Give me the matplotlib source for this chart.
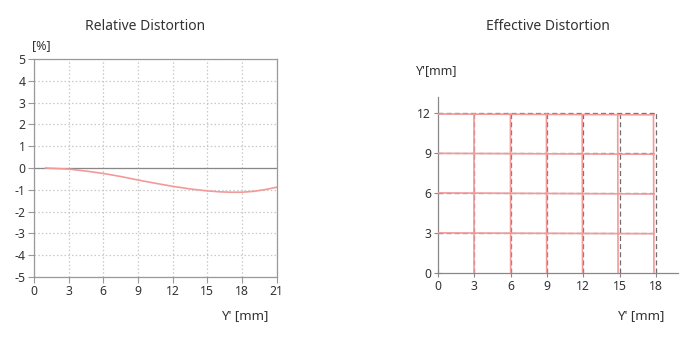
import matplotlib
matplotlib.use("Agg")
import matplotlib.pyplot as plt
import numpy as np

plt.rcParams['font.family'] = ['Noto Sans', 'DejaVu Sans']
plt.rcParams['axes.unicode_minus'] = False

# Relative distortion curve
dist_x = [1, 3, 4.5, 6, 7.5, 9, 10.5, 12, 13.5, 15, 16, 17, 18, 19, 20, 21]
dist_y = [0.0, -0.05, -0.14, -0.25, -0.39, -0.55, -0.70, -0.84, -0.96, -1.05, -1.09, -1.11, -1.11, -1.07, -0.99, -0.88]

# Effective distortion: ideal grid
ideal_x = [0, 3, 6, 9, 12, 15, 18]
ideal_y = [0, 3, 6, 9, 12]
# Distorted vertical lines: x position at y=0 and at y=12
vert_x_bottom = [0, 3.0, 6.0, 8.97, 11.93, 14.86, 17.82]
vert_x_top = [0, 3.0, 5.98, 8.95, 11.9, 14.83, 17.78]
# Distorted horizontal lines: y position at x=0 and at x=18
horz_y_left = [0, 3.0, 6.0, 8.97, 11.92]
horz_y_right = [0, 2.94, 5.92, 8.9, 11.86]

red = '#f4999a'
gray = '#6f6f6f'
txt = '#333333'

fig = plt.figure(figsize=(6.8, 3.45), dpi=100)

# Left chart
ax1 = fig.add_axes([0.05, 0.197, 0.357, 0.632])
ax1.set_xlim(0, 21)
ax1.set_ylim(-5, 5)
ax1.set_xticks(range(0, 22, 3))
ax1.set_yticks(range(-5, 6))
ax1.grid(True, color='#c8c8c8', linestyle=(0, (1.2, 1.8)), linewidth=0.9)
ax1.axhline(0, color='#888888', linewidth=0.9)
ax1.plot(dist_x, dist_y, color=red, linewidth=1.2)
for s in ax1.spines.values():
    s.set_color('#999999')
    s.set_linewidth(0.9)
ax1.tick_params(direction='out', length=4, color='#999999', labelsize=8.8, labelcolor=txt, pad=2)
ax1.text(-0.01, 1.03, '[%]', transform=ax1.transAxes, fontsize=9, color=txt, ha='left', va='bottom')
fig.text(245/680, 1-316/345, "Y' [mm]", fontsize=9.5, color=txt, ha='center', va='center')
fig.text(145/680, 1-27/345, 'Relative Distortion', fontsize=10, color=txt, ha='center', va='center')

# Right chart
ax2 = fig.add_axes([0.644, 0.209, 0.353, 0.51])
ax2.set_xlim(0, 19.8)
ax2.set_ylim(0, 13.2)
ax2.set_xticks(ideal_x)
ax2.set_yticks(ideal_y)
for s in ['top', 'right']:
    ax2.spines[s].set_visible(False)
for s in ['left', 'bottom']:
    ax2.spines[s].set_color('#888888')
    ax2.spines[s].set_linewidth(0.9)
ax2.tick_params(direction='inout', length=6, color='#888888', labelsize=8.8, labelcolor=txt, pad=2)

for x in ideal_x[1:]:
    ax2.plot([x, x], [0, ideal_y[-1]], color=gray, linestyle=(0, (4, 2.5)), linewidth=0.9, zorder=2)
for y in ideal_y[1:]:
    ax2.plot([0, ideal_x[-1]], [y, y], color=gray, linestyle=(0, (4, 2.5)), linewidth=0.9, zorder=2)
for xb, xt in zip(vert_x_bottom[1:], vert_x_top[1:]):
    ax2.plot([xb, xt], [0, horz_y_right[-1] if xb > 9 else horz_y_left[-1]], color=red, linewidth=1.2, zorder=3)
for yl, yr in zip(horz_y_left[1:], horz_y_right[1:]):
    ax2.plot([0, vert_x_bottom[-1]], [yl, yr], color=red, linewidth=1.2, zorder=3)

fig.text(437/680, 1-71/345, "Y'[mm]", fontsize=9, color=txt, ha='center', va='center')
fig.text(641/680, 1-316/345, "Y' [mm]", fontsize=9.5, color=txt, ha='center', va='center')
fig.text(548/680, 1-27/345, 'Effective Distortion', fontsize=10, color=txt, ha='center', va='center')

fig.savefig('out.png', dpi=100, facecolor='white')
